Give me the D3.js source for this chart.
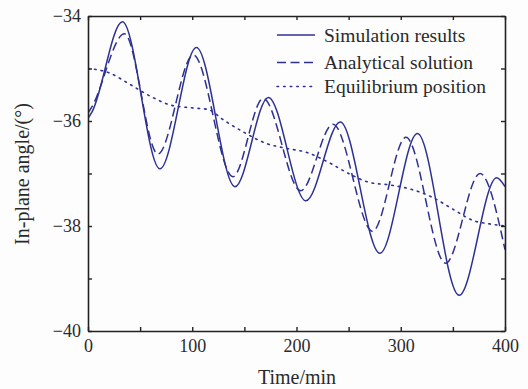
<!DOCTYPE html>
<html><head><meta charset="utf-8">
<script src="https://cdn.jsdelivr.net/npm/d3@7"></script>
<style>
html,body{margin:0;padding:0;background:#fdfdfd;}
svg{display:block;}
text{font-family:"Liberation Serif","Times New Roman",serif;fill:#2a2a2a;}
</style></head>
<body><svg id="c" width="528" height="389"></svg>
<script>
// Simulation results (time in min, in-plane angle in degrees)
const simTime  = [0, 4, 33, 69, 104, 141, 173, 209, 242, 280, 316, 356, 392, 400];
const simAngle = [-35.95, -35.82, -34.11, -36.91, -34.6, -37.25, -35.55, -37.52, -36.02, -38.52, -36.24, -39.32, -37.08, -37.25];
// Analytical solution
const anaTime  = [0, 4, 35, 67, 101, 139, 168, 204, 235, 273, 305, 343, 376, 400];
const anaAngle = [-35.85, -35.72, -34.34, -36.63, -34.74, -37.06, -35.57, -37.33, -36.06, -38.1, -36.31, -38.71, -37.0, -38.45];
// Equilibrium position
const eqTime  = [0, 20, 40, 60, 80, 100, 115, 130, 150, 170, 190, 210, 230, 250, 270, 290, 310, 330, 350, 370, 385, 400];
const eqAngle = [-35.0, -35.08, -35.3, -35.53, -35.7, -35.75, -35.78, -35.98, -36.22, -36.42, -36.52, -36.6, -36.78, -37.0, -37.17, -37.22, -37.3, -37.45, -37.68, -37.9, -37.96, -38.0];

const xTicks = [0, 100, 200, 300, 400];
const yTicks = [-34, -36, -38, -40];
const seriesNames = ["Simulation results", "Analytical solution", "Equilibrium position"];

const svg = d3.select("#c");
const L = 88, R = 505, T = 16, B = 331;
const x = d3.scaleLinear().domain([0, 400]).range([L, R]);
const y = d3.scaleLinear().domain([-40, -34]).range([B, T]);
const col = "#2e3192";

const fmt = d => (d < 0 ? "\u2212" + Math.abs(d) : "" + d);

svg.append("clipPath").attr("id", "clp").append("rect")
  .attr("x", L).attr("y", T).attr("width", R - L).attr("height", B - T);

const line = d3.line().x(d => x(d[0])).y(d => y(d[1])).curve(d3.curveMonotoneX);

const g = svg.append("g").attr("clip-path", "url(#clp)");
g.append("path").datum(eqTime.map((t, i) => [t, eqAngle[i]]))
  .attr("d", line).attr("fill", "none").attr("stroke", col)
  .attr("stroke-width", 1.6).attr("stroke-dasharray", "1.6,5").attr("stroke-linecap", "round");
g.append("path").datum(anaTime.map((t, i) => [t, anaAngle[i]]))
  .attr("d", line).attr("fill", "none").attr("stroke", col)
  .attr("stroke-width", 1.5).attr("stroke-dasharray", "9,4.5");
g.append("path").datum(simTime.map((t, i) => [t, simAngle[i]]))
  .attr("d", line).attr("fill", "none").attr("stroke", col)
  .attr("stroke-width", 1.5);

const axCol = "#222";
const tickLen = 4;
const xAll = d3.range(0, 401, 50);
const yAll = d3.range(-40, -33.9, 1);
const axBottom = d3.axisBottom(x).tickValues(xAll).tickSize(-tickLen).tickSizeOuter(0).tickPadding(6)
  .tickFormat(d => xTicks.includes(d) ? fmt(d) : "");
const axTop = d3.axisTop(x).tickValues(xAll).tickSize(-tickLen).tickSizeOuter(0).tickFormat("");
const axLeft = d3.axisLeft(y).tickValues(yAll).tickSize(-tickLen).tickSizeOuter(0).tickPadding(7)
  .tickFormat(d => yTicks.includes(d) ? fmt(d) : "");
const axRight = d3.axisRight(y).tickValues(yAll).tickSize(-tickLen).tickSizeOuter(0).tickFormat("");

function style(sel) {
  sel.select(".domain").attr("stroke", axCol).attr("stroke-width", 1.6);
  sel.selectAll(".tick line").attr("stroke", axCol).attr("stroke-width", 1.4);
  sel.selectAll(".tick text").attr("font-family", "Liberation Serif").attr("font-size", 18).attr("fill", "#2a2a2a");
}
svg.append("g").attr("transform", `translate(0,${B})`).call(axBottom).call(style)
  .selectAll(".tick text").attr("dy", "0.85em");
svg.append("g").attr("transform", `translate(0,${T})`).call(axTop).call(style);
svg.append("g").attr("transform", `translate(${L},0)`).call(axLeft).call(style);
svg.append("g").attr("transform", `translate(${R},0)`).call(axRight).call(style);

svg.append("text").attr("x", 297).attr("y", 384).attr("text-anchor", "middle")
  .attr("font-size", 20).text("Time/min");
svg.append("text").attr("transform", "translate(29,174) rotate(-90)").attr("text-anchor", "middle")
  .attr("font-size", 20).text("In-plane angle/(\u00b0)");

const legY = [35, 62.5, 86.5];
const dashes = [null, "9,4.5", "1.6,5"];
const leg = svg.append("g");
seriesNames.forEach((nm, i) => {
  leg.append("line").attr("x1", 277).attr("x2", 315).attr("y1", legY[i]).attr("y2", legY[i])
    .attr("stroke", col).attr("stroke-width", 1.5)
    .attr("stroke-dasharray", dashes[i]).attr("stroke-linecap", i === 2 ? "round" : "butt");
  leg.append("text").attr("x", 324).attr("y", legY[i]).attr("dy", "0.35em")
    .attr("font-size", 19.5).text(nm);
});
</script></body></html>
